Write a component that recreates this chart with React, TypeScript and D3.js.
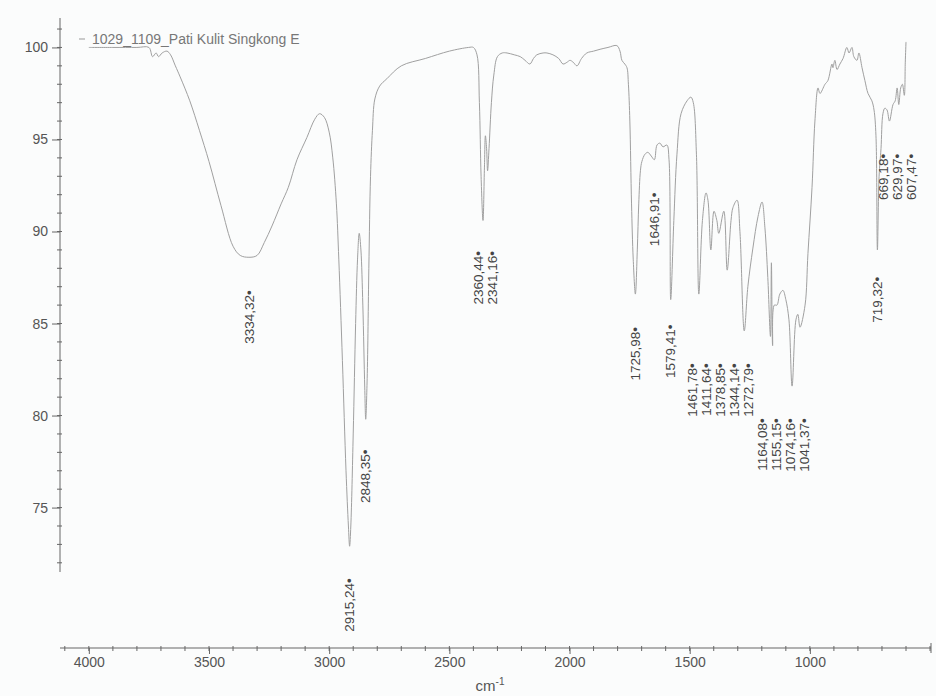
import React, { useEffect, useRef } from "react";
import * as d3 from "d3";

// spectrum: wavenumber (cm-1) and transmittance (%)
const wavenumbers = [
  4000, 3900, 3800, 3750, 3735, 3720, 3710, 3695, 3675, 3660, 3640, 3620, 3580, 3540, 3500, 3450, 3400, 3370,
  3334, 3300, 3270, 3238, 3200, 3170, 3134, 3093, 3060, 3040, 3020, 3000, 2985, 2970, 2960, 2945, 2930, 2920,
  2915, 2910, 2900, 2890, 2882, 2875, 2868, 2860, 2852, 2848, 2842, 2835, 2828, 2820, 2810, 2790, 2760, 2700,
  2600, 2500, 2420, 2400, 2385, 2375, 2368, 2360, 2354, 2350, 2345, 2341, 2335, 2325, 2315, 2300, 2280, 2260,
  2230, 2205, 2185, 2165, 2150, 2136, 2110, 2094, 2069, 2045, 2027, 2010, 1998, 1985, 1969, 1950, 1928, 1900,
  1873, 1840, 1803, 1790, 1782, 1770, 1761, 1755, 1749, 1742, 1735, 1726, 1718, 1712, 1705, 1699, 1686, 1674,
  1660, 1647, 1636, 1624, 1611, 1595, 1586, 1579, 1566, 1553, 1536, 1511, 1495, 1485, 1472, 1462, 1447, 1432,
  1424, 1412, 1399, 1387, 1379, 1358, 1344, 1328, 1320, 1303, 1291, 1273, 1258, 1237, 1216, 1199, 1187, 1175,
  1164, 1160, 1155, 1148, 1137, 1125, 1112, 1100, 1087, 1074, 1058, 1050, 1041, 1020, 1008, 991, 979, 966,
  958, 937, 925, 908, 904, 896, 887, 875, 862, 846, 837, 825, 817, 804, 796, 783, 771, 758, 742, 733, 725,
  719, 712, 704, 696, 688, 679, 669, 654, 645, 637, 630, 622, 615, 607, 603, 600,
];
const transmittance = [
  100.0, 100.0, 100.0, 100.0, 99.5, 99.7, 99.5, 99.7, 99.8, 99.6, 99.0, 98.4, 97.1, 95.5, 93.8, 91.4, 89.2, 88.7,
  88.6, 88.7, 89.4, 90.3, 91.5, 92.4, 93.9, 95.1, 96.1, 96.4, 96.2, 95.4, 94.0, 91.5, 88.5, 83.0, 77.0, 74.0,
  72.9, 74.0, 79.0, 85.0, 88.5, 89.9, 89.0, 86.0, 81.5, 79.8, 82.0, 88.0, 93.0, 95.5, 97.2, 97.9, 98.3, 99.0,
  99.4, 99.8, 100.0, 100.0, 99.6, 97.0, 93.0, 90.6, 93.5, 95.2, 94.5, 93.3, 94.5, 97.0, 98.5, 99.5, 99.7, 99.7,
  99.6, 99.5, 99.3, 99.1, 99.4, 99.6, 99.7, 99.7, 99.6, 99.4, 99.1, 99.2, 99.3, 99.2, 99.0, 99.4, 99.7, 99.8,
  99.9, 100.0, 100.1, 99.8, 99.3, 99.1, 98.9, 98.0, 96.0, 91.5, 88.5, 86.6, 89.0, 91.5, 93.3, 93.8, 94.2, 94.3,
  94.1, 93.9, 94.7, 94.8, 94.6, 94.7, 93.9, 86.3, 90.6, 94.2, 96.4, 97.1, 97.3, 97.0, 94.2, 86.6, 90.6, 92.1,
  91.7, 89.0, 91.1, 90.6, 89.9, 91.1, 87.9, 90.6, 91.3, 91.7, 90.0, 84.6, 87.0, 89.1, 90.8, 91.6, 90.2, 87.5,
  84.3, 88.3, 83.8, 86.0, 86.0, 86.6, 86.8, 86.3, 85.2, 81.6, 85.2, 85.5, 84.8, 86.0, 88.8, 92.4, 96.0, 97.8,
  97.5, 98.0, 98.2, 99.1, 98.9, 99.3, 98.8, 99.1, 99.4, 100.0, 99.7, 100.0, 99.5, 99.3, 99.7, 98.9, 98.2, 97.5, 97.1, 96.6, 95.2,
  89.0, 93.0, 94.5, 96.4, 96.7, 96.6, 96.0, 96.9, 97.1, 97.8, 96.9, 97.8, 98.0, 97.4, 99.2, 100.3,
];

const peaks = [
  3334.32, 2915.24, 2848.35, 2360.44, 2341.16, 1725.98, 1646.91, 1579.41, 1461.78, 1411.64, 1378.85, 1344.14,
  1272.79, 1164.08, 1155.15, 1074.16, 1041.37, 719.32, 669.18, 629.97, 607.47,
];

const xTicks = [4000, 3500, 3000, 2500, 2000, 1500, 1000];
const yTicks = [75, 80, 85, 90, 95, 100];
const seriesName = "1029_1109_Pati Kulit Singkong E";

const W = 936;
const H = 696;
const FONT = "'Liberation Sans', Arial, sans-serif";

type Item = { p: number; px: number; top: number };
type Group = { members: Item[]; minTop: number; maxTop: number };

export default function App() {
  const ref = useRef<SVGSVGElement | null>(null);

  useEffect(() => {
    const svg = d3.select(ref.current);
    svg.selectAll("*").remove();

    const x = d3.scaleLinear().domain([4120, 496]).range([60, 931]);
    const y = d3.scaleLinear().domain([71.5, 101.6]).range([572, 18]);
    const axisColor = "#666";
    const textColor = "#555";

    svg.append("rect").attr("width", W).attr("height", H).attr("fill", "#fbfcfc");

    // y axis
    const gy = svg.append("g").attr("transform", "translate(60,0)");
    gy.append("line").attr("y1", y(71.5)).attr("y2", y(101.6)).attr("stroke", axisColor);
    gy.selectAll("line.minor")
      .data(d3.range(72, 102, 1))
      .join("line")
      .attr("class", "minor")
      .attr("x1", -3)
      .attr("x2", 2)
      .attr("y1", (d) => y(d))
      .attr("y2", (d) => y(d))
      .attr("stroke", axisColor);
    const yAxis = d3.axisLeft(y).tickValues(yTicks).tickSize(8).tickPadding(4).tickFormat(d3.format("d"));
    gy.append("g").call(yAxis).call((g) => {
      g.select(".domain").remove();
      g.selectAll("line").attr("stroke", axisColor);
      g.selectAll("text").attr("fill", textColor).attr("font-size", 14).attr("font-family", FONT);
    });

    // x axis
    const axY = 648;
    const gx = svg.append("g").attr("transform", `translate(0,${axY})`);
    gx.append("line").attr("x1", x(4120)).attr("x2", x(496)).attr("stroke", axisColor);
    gx.selectAll("line.minor")
      .data(d3.range(4100, 499, -100))
      .join("line")
      .attr("class", "minor")
      .attr("x1", (d) => x(d))
      .attr("x2", (d) => x(d))
      .attr("y1", -2)
      .attr("y2", 3)
      .attr("stroke", axisColor);
    gx.append("line").attr("x1", x(496)).attr("x2", x(496)).attr("y1", -5).attr("y2", 5).attr("stroke", axisColor);
    const xAxis = d3.axisBottom(x).tickValues(xTicks).tickSize(6).tickPadding(3).tickFormat(d3.format("d"));
    gx.append("g").call(xAxis).call((g) => {
      g.select(".domain").remove();
      g.selectAll("line").attr("stroke", axisColor);
      g.selectAll("text").attr("fill", textColor).attr("font-size", 14).attr("font-family", FONT);
    });

    const unit = svg
      .append("text")
      .attr("x", 490)
      .attr("y", 691)
      .attr("text-anchor", "middle")
      .attr("font-size", 15)
      .attr("font-family", FONT)
      .attr("fill", textColor);
    unit.append("tspan").text("cm");
    unit.append("tspan").attr("font-size", 10).attr("dy", -6).text("-1");

    // spectrum
    const pts = wavenumbers.map((w, i) => [w, transmittance[i]] as [number, number]);
    const line = d3
      .line<[number, number]>()
      .x((d) => x(d[0]))
      .y((d) => y(d[1]))
      .curve(d3.curveCatmullRom.alpha(0.5));
    svg.append("path").datum(pts).attr("fill", "none").attr("stroke", "#a0a0a0").attr("stroke-width", 1).attr("d", line);

    // legend
    svg.append("line").attr("x1", 79).attr("x2", 85).attr("y1", 39).attr("y2", 39).attr("stroke", "#999");
    svg.append("text")
      .attr("x", 92)
      .attr("y", 44)
      .attr("font-size", 14)
      .attr("font-family", FONT)
      .attr("fill", "#777")
      .text(seriesName);

    // peak labels, pushed apart where they would collide
    const tAt = (w: number) => {
      for (let i = 0; i < pts.length - 1; i++) {
        const [w0, t0] = pts[i];
        const [w1, t1] = pts[i + 1];
        if (w <= w0 && w >= w1) return t0 + ((w - w0) / (w1 - w0)) * (t1 - t0);
      }
      return 100;
    };
    const labelLen = 58;
    const gap = 14;
    let groups: Group[] = peaks.map((p) => {
      const top = y(tAt(p)) + 33;
      return { members: [{ p, px: x(p), top }], minTop: top, maxTop: top };
    });
    const pos = (g: Group) => {
      const mean = d3.mean(g.members, (m) => m.px) as number;
      const n = g.members.length;
      return g.members.map((_, i) => mean + (i - (n - 1) / 2) * gap);
    };
    let merged = true;
    while (merged) {
      merged = false;
      for (let i = 0; i < groups.length - 1; i++) {
        const a = groups[i];
        const b = groups[i + 1];
        const pa = pos(a);
        const pb = pos(b);
        const overlap = a.minTop < b.maxTop + labelLen && b.minTop < a.maxTop + labelLen;
        if (overlap && pb[0] - pa[pa.length - 1] < gap) {
          const g: Group = {
            members: [...a.members, ...b.members],
            minTop: Math.min(a.minTop, b.minTop),
            maxTop: Math.max(a.maxTop, b.maxTop),
          };
          groups = [...groups.slice(0, i), g, ...groups.slice(i + 2)];
          merged = true;
          break;
        }
      }
    }
    const fmt = d3.format(".2f");
    groups.forEach((g) => {
      const xs = pos(g);
      g.members.forEach((m, i) => {
        svg.append("text")
          .attr("transform", `translate(${xs[i]},${g.maxTop}) rotate(-90)`)
          .attr("text-anchor", "end")
          .attr("dy", "0.35em")
          .attr("font-size", 13.5)
          .attr("font-family", FONT)
          .attr("fill", "#444")
          .text(fmt(m.p).replace(".", ",") + "•");
      });
    });
  }, []);

  return (
    <div style={{ position: "absolute", left: 0, top: 0 }}>
      <svg ref={ref} width={W} height={H}></svg>
    </div>
  );
}
